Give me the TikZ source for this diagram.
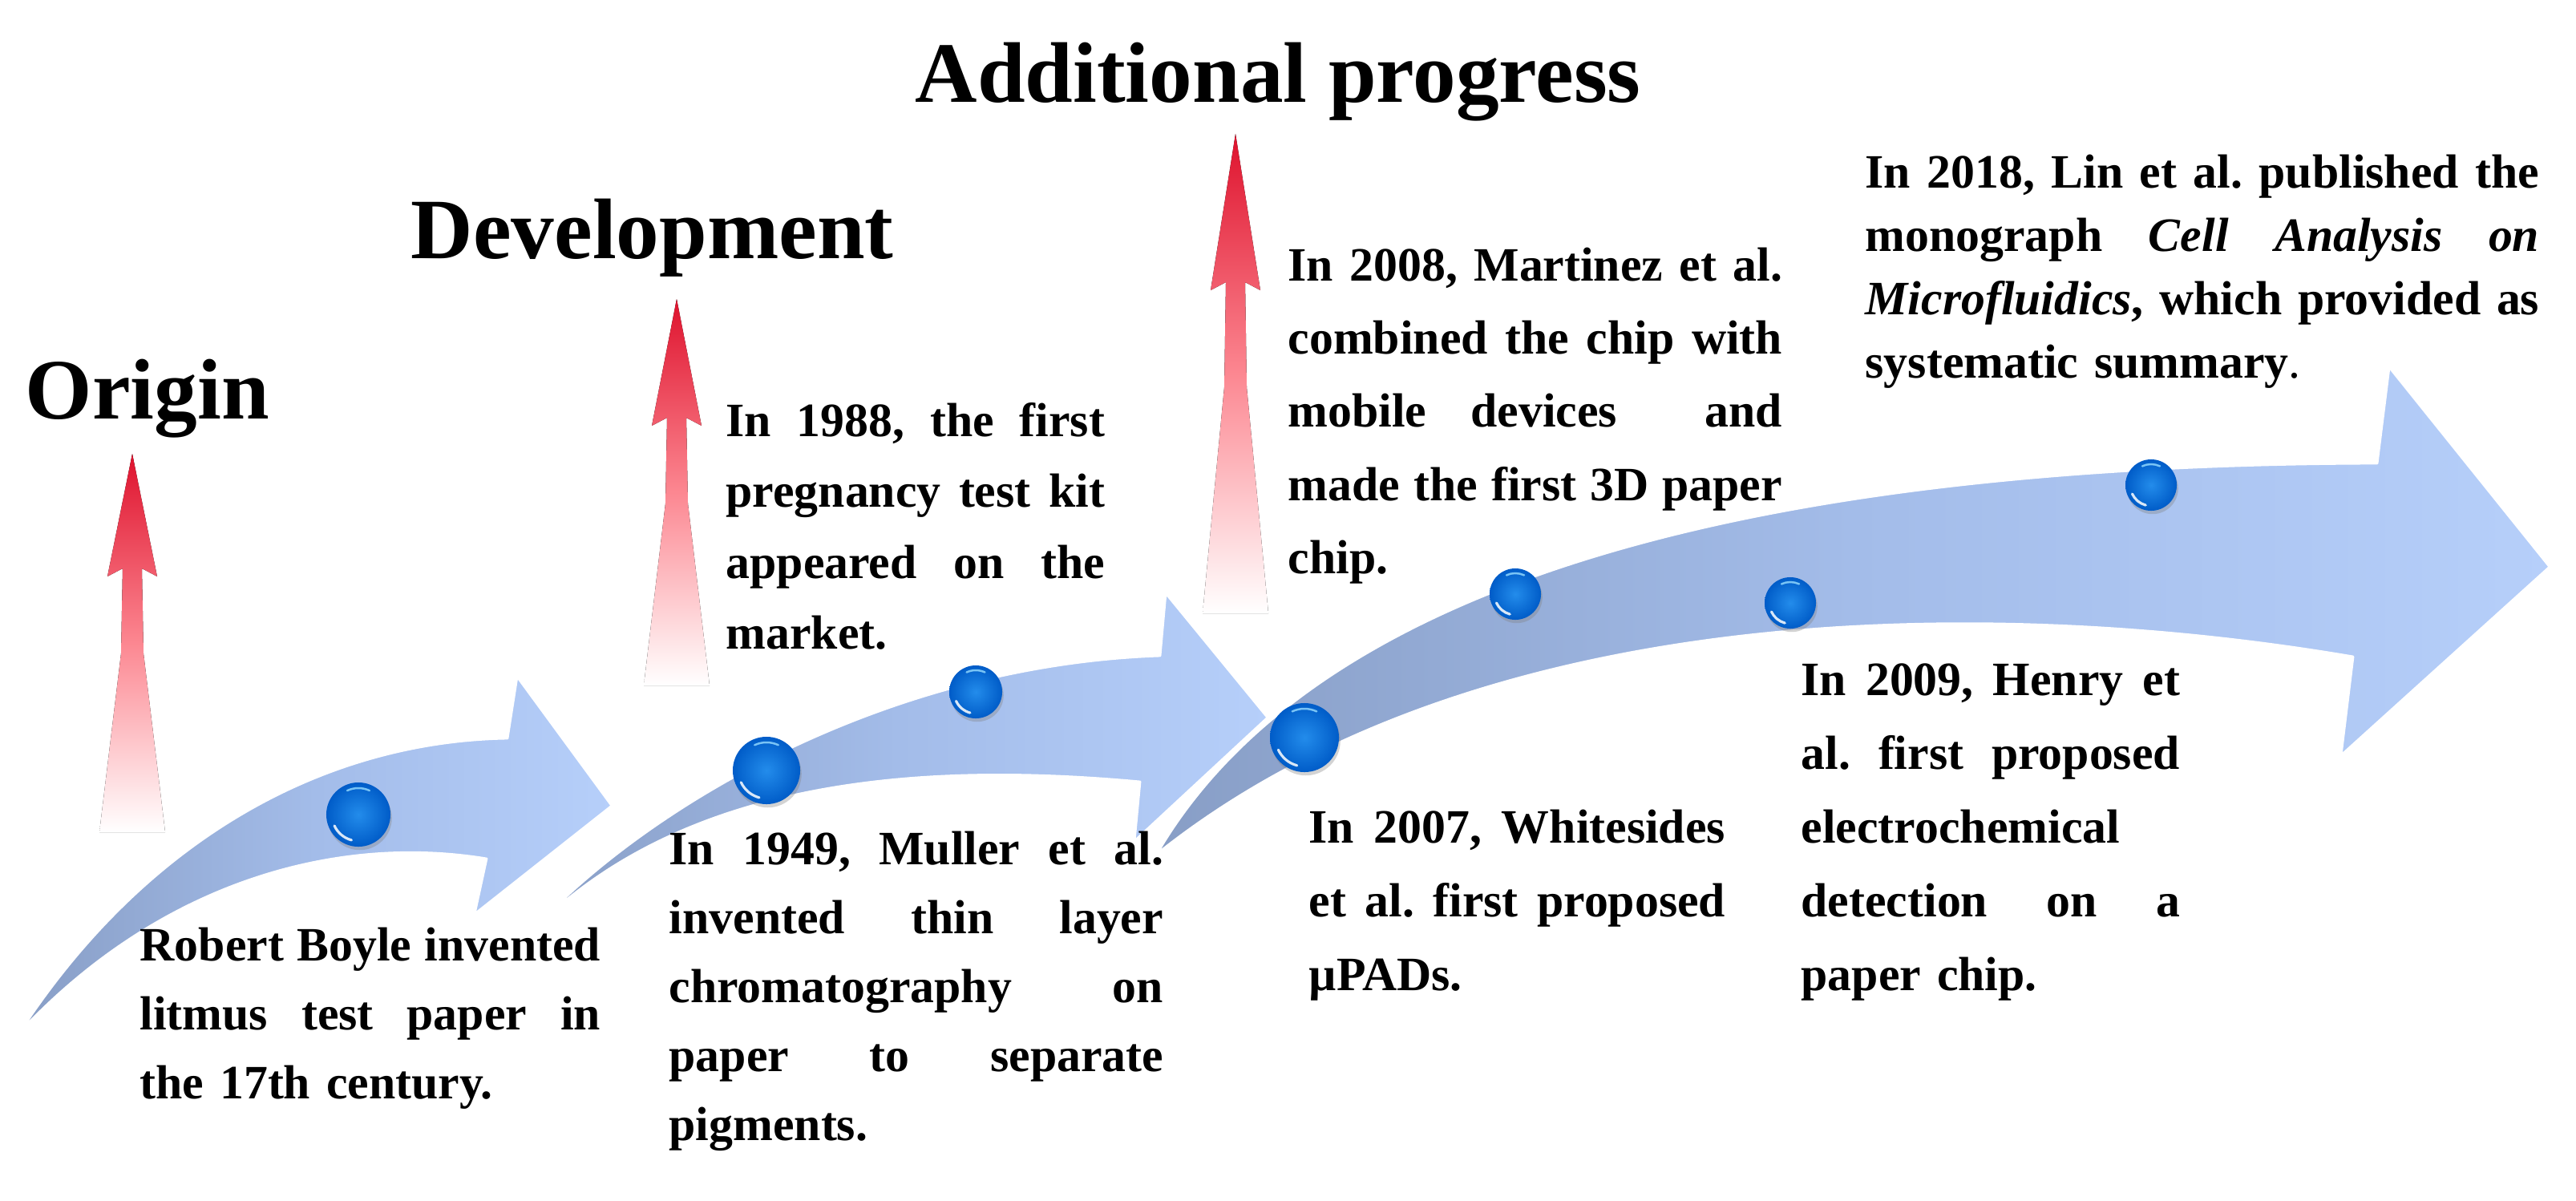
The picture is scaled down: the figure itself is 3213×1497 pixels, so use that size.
\documentclass[tikz,border=0pt]{standalone}
\usepackage{fontspec}
\setmainfont{Liberation Serif}
\usetikzlibrary{shadows}
\definecolor{arrDark}{RGB}{136,158,198}
\definecolor{arrMid}{RGB}{163,188,233}
\definecolor{arrLight}{RGB}{182,207,250}
\definecolor{redTop}{RGB}{222,18,45}
\definecolor{redMid}{RGB}{252,135,145}
\definecolor{dotLight}{RGB}{35,140,235}
\definecolor{dotDark}{RGB}{0,92,200}
\definecolor{glintCol}{RGB}{150,220,255}
\newcommand\jl[1]{{\spaceskip=0pt\xspaceskip=0pt\frenchspacing\makebox[\linewidth][s]{#1}}}
\newcommand\dothl[2]{%
  \draw[hl] ([shift={(155:#2)}]#1.center) arc[start angle=155,end angle=105,radius=#2];
  \draw[glint] ([shift={(-65:#2)}]#1.center) arc[start angle=-65,end angle=-115,radius=#2];}
\begin{document}
\begin{tikzpicture}[x=0.01cm,y=-0.01cm,
  title/.style={anchor=base west, inner sep=0pt, font=\fontsize{30.5}{36}\selectfont\bfseries},
  body/.style={anchor=base west, inner sep=0pt, align=left, font=\fontsize{17}{24.5}\selectfont\bfseries},
  bluearrow/.style={left color=arrDark, right color=arrLight, middle color=arrMid, draw=white, line width=0.8pt, line join=round},
  redarrow/.style={top color=redTop, bottom color=white, middle color=redMid},
  dot/.style={circle, inner sep=0pt, inner color=dotLight, outer color=dotDark,
    drop shadow={opacity=0.35, shadow xshift=0.5pt, shadow yshift=-1.2pt}},
  hl/.style={draw=white, line width=0.9pt, opacity=0.85, line cap=round},
  glint/.style={draw=glintCol, line width=0.7pt, opacity=0.8, line cap=round}
]
\useasboundingbox (0,0) rectangle (3213,1497);

% red vertical arrows
\fill[redarrow] (165,566) -- (196,719) -- (177,709) -- (179,815) -- (206,1038) -- (124,1038) -- (151,815) -- (153,709) -- (134,719) -- cycle;
\fill[redarrow] (844,373) -- (875,531) -- (856,521) -- (858,628) -- (885,855) -- (803,855) -- (830,628) -- (832,521) -- (813,531) -- cycle;
\fill[redarrow] (1541,167) -- (1572,362) -- (1553,352) -- (1555,483) -- (1582,765) -- (1500,765) -- (1527,483) -- (1529,352) -- (1510,362) -- cycle;

% blue curved arrows
\path[bluearrow] (25,1287) .. controls (180,1050) and (400,925) .. (633,921) -- (645,844) -- (763,1005) -- (592,1140) -- (607,1071) .. controls (420,1040) and (200,1100) .. cycle;
\path[bluearrow] (660,1165) .. controls (800,1010) and (1100,830) .. (1447,818) -- (1454,740) -- (1581,895) -- (1415,1049) -- (1422,975) .. controls (1150,950) and (850,970) .. cycle;
\path[bluearrow] (1443,1065) .. controls (1620,760) and (2100,580) .. (2965,578) -- (2980,458) -- (3180,707) -- (2920,942) -- (2935,819) .. controls (2500,745) and (1850,740) .. cycle;

% dots
\node[dot, minimum size=0.80cm] (d1) at (447,1016) {};
\node[dot, minimum size=0.84cm] (d2) at (956,961) {};
\node[dot, minimum size=0.66cm] (d3) at (1217,863) {};
\node[dot, minimum size=0.86cm] (d4) at (1627,920) {};
\node[dot, minimum size=0.64cm] (d5) at (1890,741) {};
\node[dot, minimum size=0.64cm] (d6) at (2233,752) {};
\node[dot, minimum size=0.64cm] (d7) at (2683,605) {};
\dothl{d1}{33}
\dothl{d2}{35}
\dothl{d3}{27}
\dothl{d4}{36}
\dothl{d5}{26}
\dothl{d6}{26}
\dothl{d7}{26}

% titles
\node[title] (origin) at (31,522) {Origin};
\node[title] (devel) at (512,322) {Development};
\node[title] (addprog) at (1141,127) {Additional progress};

% texts
\node[body, text width=5.74cm] (tA) at (174,1198) {\jl{Robert Boyle invented}\\\jl{litmus test paper in}\\the 17th century.};
\node[body, text width=6.16cm] (tB) at (834,1078) {\jl{In 1949, Muller et al.}\\\jl{invented thin layer}\\\jl{chromatography on}\\\jl{paper to separate}\\pigments.};
\node[body, text width=4.72cm, font=\fontsize{17}{25.2}\selectfont\bfseries] (tC) at (905,544) {\jl{In 1988, the first}\\\jl{pregnancy test kit}\\\jl{appeared on the}\\market.};
\node[body, text width=6.16cm, font=\fontsize{17}{26}\selectfont\bfseries] (tD) at (1606,350) {\jl{In 2008, Martinez et al.}\\\jl{combined the chip with}\\\jl{mobile devices\ \ and}\\\jl{made the first 3D paper}\\chip.};
\node[body, text width=5.19cm, font=\fontsize{17}{26.2}\selectfont\bfseries] (tE) at (1632,1051) {\jl{In 2007, Whitesides}\\\jl{et al. first proposed}\\µPADs.};
\node[body, text width=4.72cm, font=\fontsize{17}{26.2}\selectfont\bfseries] (tF) at (2246,867) {\jl{In 2009, Henry et}\\\jl{al. first proposed}\\electrochemical\\\jl{detection on a}\\paper chip.};
\node[body, text width=8.40cm, font=\fontsize{17}{22.5}\selectfont\bfseries] (tG) at (2326,234) {\jl{In 2018, Lin et al. published the}\\\jl{monograph \textit{Cell Analysis on}}\\\jl{\textit{Microfluidics}, which provided as}\\systematic summary{\mdseries.}};
\end{tikzpicture}
\end{document}
